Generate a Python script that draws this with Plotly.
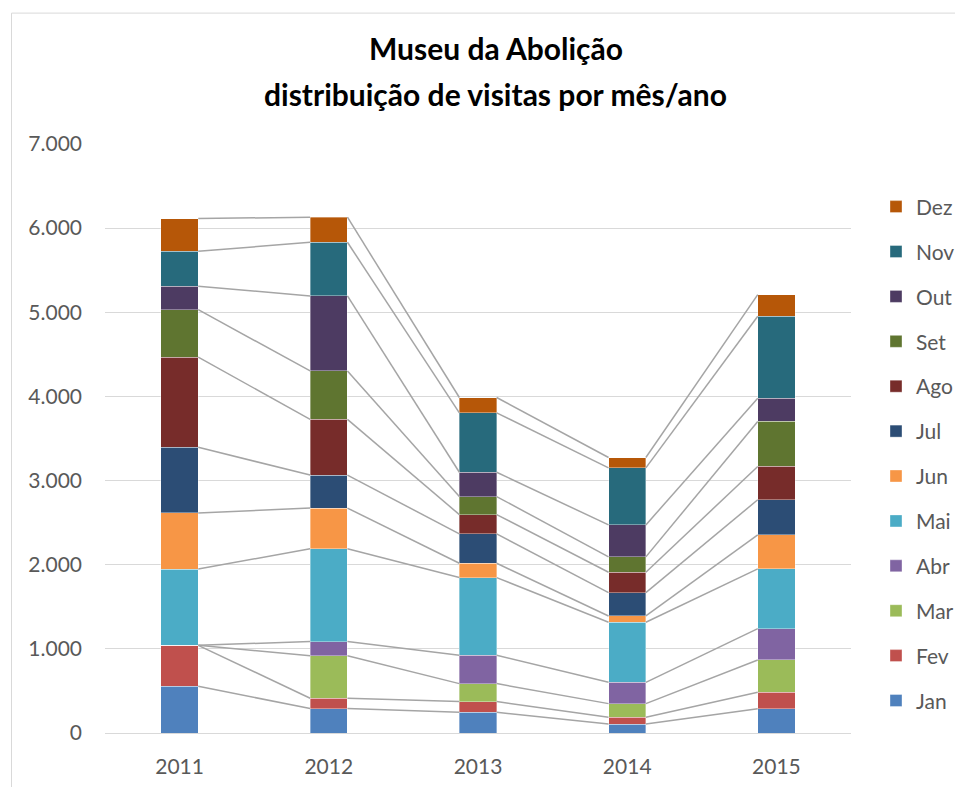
import plotly.graph_objects as go
import numpy as np

years = ["2011", "2012", "2013", "2014", "2015"]
months = ["Jan", "Fev", "Mar", "Abr", "Mai", "Jun", "Jul", "Ago", "Set", "Out", "Nov", "Dez"]

jan = [556, 290, 246, 107, 289]
fev = [486, 123, 127, 79, 195]
mar = [0, 506, 214, 163, 384]
abr = [0, 168, 336, 253, 373]
mai = [907, 1103, 924, 714, 710]
jun = [666, 483, 170, 75, 404]
jul = [781, 392, 349, 278, 417]
ago = [1071, 662, 230, 241, 396]
set_ = [564, 576, 214, 183, 535]
out = [278, 891, 289, 380, 274]
nov = [416, 638, 706, 678, 975]
dez = [389, 298, 182, 123, 258]

series = [jan, fev, mar, abr, mai, jun, jul, ago, set_, out, nov, dez]
colors = ["#4F81BD", "#C0504D", "#9BBB59", "#8064A2", "#4BACC6", "#F79646",
          "#2C4D75", "#772C2A", "#5F7530", "#4D3B62", "#276A7C", "#B65708"]

# the page places the figure 8px from the top-left corner
OFF = 8
W, H = 963 - OFF, 787 - OFF
ML = 105 - OFF
MR = W - (851 - OFF)
MT = 143.5 - OFF
MB = H - (733 - OFF)
BAR_W = 0.25
FONT = "Lato"
TXT = "#595959"

xpos = np.arange(len(years))
fig = go.Figure()

# series lines (connect tops of each segment between adjacent bars)
cum = np.cumsum(np.array(series, dtype=float), axis=0)
for k in range(len(months)):
    lx, ly = [], []
    for i in range(len(years) - 1):
        lx += [xpos[i] + BAR_W / 2, xpos[i + 1] - BAR_W / 2, None]
        ly += [cum[k][i], cum[k][i + 1], None]
    fig.add_trace(go.Scatter(x=lx, y=ly, mode="lines", showlegend=False,
                             hoverinfo="skip",
                             line=dict(color="#A5A5A5", width=1.5)))

for k, (m, vals) in enumerate(zip(months, series)):
    fig.add_trace(go.Bar(x=xpos, y=vals, name=m, width=BAR_W, legendgroup=m,
                         legendrank=100 - k,
                         marker=dict(color=colors[k],
                                     line=dict(color="rgba(255,255,255,0.6)", width=0.6))))

# convert screen pixels (of the reference) to paper / container coordinates
def px_x(p):
    return (p - OFF - ML) / (W - ML - MR)

def px_y(p):
    return (H - MB - (p - OFF)) / (H - MT - MB)

fig.update_layout(
    width=W, height=H,
    margin=dict(l=ML, r=MR, t=MT, b=MB, autoexpand=False),
    barmode="stack",
    plot_bgcolor="white", paper_bgcolor="white",
    font=dict(family=FONT, color=TXT, size=21),
    title=dict(text="<b>Museu da Abolição</b>", x=(496 - OFF) / W, xanchor="center",
               xref="container", yref="container", y=1 - (39 - OFF) / H, yanchor="top",
               font=dict(family=FONT, size=30, color="#000000")),
    annotations=[dict(text="<b>distribuição de visitas por mês/ano</b>",
                      xref="paper", yref="paper", x=px_x(495), y=px_y(93),
                      xanchor="center", yanchor="middle", showarrow=False,
                      font=dict(family=FONT, size=30, color="#000000"))],
    xaxis=dict(range=[-0.5, len(years) - 0.5], tickvals=xpos, ticktext=years,
               showgrid=False, zeroline=False, showline=True, linecolor="#D9D9D9",
               linewidth=1, ticks="", ticklabelstandoff=15,
               tickfont=dict(size=21, color=TXT)),
    yaxis=dict(range=[0, 7000], tickvals=list(range(0, 7001, 1000)),
               ticktext=["0", "1.000", "2.000", "3.000", "4.000", "5.000", "6.000", "7.000"],
               showgrid=True, gridcolor="#D9D9D9", gridwidth=1, zeroline=False,
               ticks="", ticklabelstandoff=22, tickfont=dict(size=21, color=TXT)),
    legend=dict(traceorder="grouped", tracegroupgap=14.6,
                x=px_x(876), xanchor="left", y=px_y(186), yanchor="top",
                font=dict(size=21, color=TXT), bgcolor="rgba(0,0,0,0)"),
    shapes=[dict(type="rect", xref="paper", yref="paper",
                 x0=px_x(11.5), x1=px_x(990), y0=px_y(800), y1=px_y(12.5),
                 line=dict(color="#D9D9D9", width=1), fillcolor="rgba(0,0,0,0)",
                 layer="below")],
)

fig.write_html("out.html")
